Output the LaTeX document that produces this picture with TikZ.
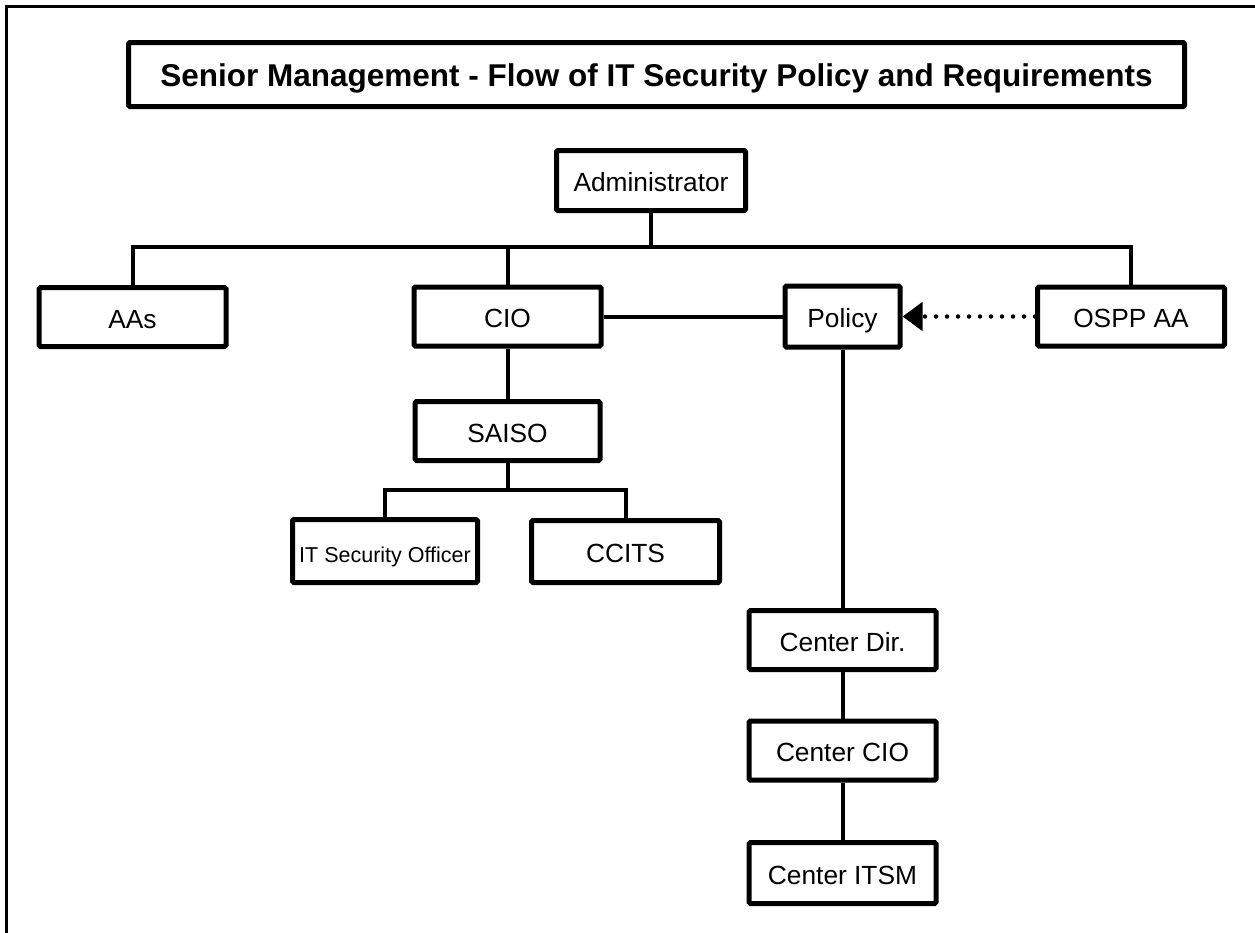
\documentclass[tikz,border=0pt]{standalone}
\usepackage{fontspec}
\setmainfont{Liberation Sans}
\usetikzlibrary{arrows.meta}
\tikzset{every path/.style={black,line width=4pt}, box/.style={draw,line width=5pt,rounded corners=1.5pt,inner sep=0pt,minimum width=187pt,minimum height=59pt,text height=24pt,text depth=1.3pt,font=\fontsize{26.3}{31}\selectfont}}

\begin{document}
\begin{tikzpicture}[x=1pt,y=-1pt]
  \useasboundingbox (0,0) rectangle (1255,932);
  \draw[line width=3pt] (6,940) -- (6,6) -- (1262,6);
  \node[box,minimum width=1056pt,minimum height=64pt,text height=24pt,text depth=1pt,font=\fontsize{31.5}{36}\selectfont\bfseries] (title) at (656.5,74.5) {Senior Management - Flow of IT Security Policy and Requirements};
  \node[box,minimum width=189pt,minimum height=60pt] (admin) at (651,180.5) {Administrator};
  \node[box] (aas) at (132.5,317) {AAs};
  \node[box] (cio) at (507.5,316.5) {CIO};
  \node[box,minimum width=115pt,minimum height=61pt] (policy) at (842.5,316.5) {Policy};
  \node[box] (ospp) at (1131,316.5) {OSPP AA};
  \node[box,minimum width=185pt] (saiso) at (507.5,431) {SAISO};
  \node[box,minimum width=185pt,minimum height=63pt,font=\fontsize{21.5}{25}\selectfont] (itso) at (385,551) {IT Security Officer};
  \node[box,minimum width=188pt,minimum height=62pt] (ccits) at (625.5,551.5) {CCITS};
  \node[box] (cdir) at (842.5,640) {Center Dir.};
  \node[box] (ccio) at (842.5,750.5) {Center CIO};
  \node[box,minimum height=61pt] (citsm) at (842.5,873) {Center ITSM};
  \coordinate (hub) at (651,247);
  \coordinate (saisohub) at (507.5,490);
  \draw (admin) -- (hub);
  \draw (aas.north) |- (hub) -| (ospp.north);
  \draw (cio.north) -- (cio.north |- hub);
  \draw (cio) -- (policy);
  \draw (cio) -- (saiso);
  \draw (saiso) -- (saisohub);
  \draw (itso.north) |- (saisohub) -| (ccits.north);
  \draw (policy) -- (cdir);
  \draw (cdir) -- (ccio);
  \draw (ccio) -- (citsm);
  \draw[line width=4.5pt,dash pattern=on 0pt off 11pt,line cap=round,-{Triangle[length=20pt,width=28pt]}] (ospp) -- (policy);
 \end{tikzpicture}
\end{document}
